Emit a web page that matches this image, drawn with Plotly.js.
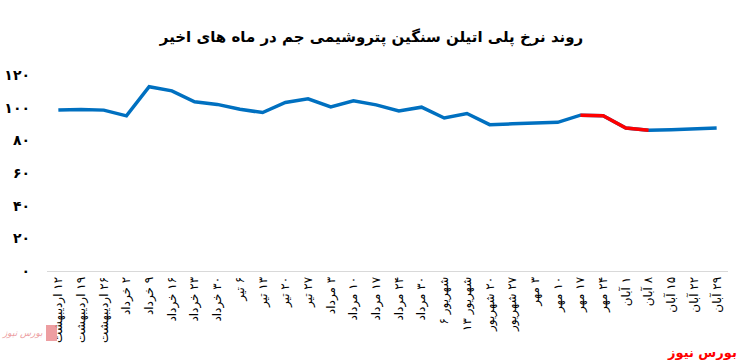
<!DOCTYPE html>
<html>
<head>
<meta charset="utf-8">
<script src="https://cdn.plot.ly/plotly-3.0.1.min.js"></script>
<style>html,body{margin:0;padding:0;background:#fff;}#chart{width:743px;height:364px;}</style>
</head>
<body>
<div id="chart"></div>
<script>
// Week labels (Persian calendar)
const categories = [
  "۱۲ اردیبهشت","۱۹ اردیبهشت","۲۶ اردیبهشت","۲ خرداد","۹ خرداد","۱۶ خرداد",
  "۲۳ خرداد","۳۰ خرداد","۶ تیر","۱۳ تیر","۲۰ تیر","۲۷ تیر",
  "۳ مرداد","۱۰ مرداد","۱۷ مرداد","۲۴ مرداد","۳۰ مرداد","شهریور ۶",
  "شهریور ۱۳","۲۰ شهریور","۲۷ شهریور","۳ مهر","۱۰ مهر","۱۷ مهر",
  "۲۴ مهر","۱ آبان","۸ آبان","۱۵ آبان","۲۲ آبان","۲۹ آبان"
];
// Price index values
const values = [
  98.5, 98.9, 98.5, 95.0, 112.8, 110.3,
  103.6, 102.0, 99.0, 97.0, 103.2, 105.4,
  100.5, 104.2, 101.7, 98.0, 100.3, 93.7,
  96.4, 89.6, 90.1, 90.5, 91.0, 95.4,
  95.0, 87.6, 86.2, 86.5, 86.8, 87.6
];
// Highlighted (red) stretch: from "۱۷ مهر" to "۸ آبان"
const highlightFrom = "۱۷ مهر";
const highlightTo = "۸ آبان";
// Y ticks
const yTickVals = [0, 20, 40, 60, 80, 100, 120];
const yTickText = ["۰","۲۰","۴۰","۶۰","۸۰","۱۰۰","۱۲۰"];

const RLM = "\u200F";
const xIdx = categories.map((_, i) => i);
const i0 = categories.indexOf(highlightFrom), i1 = categories.indexOf(highlightTo);
const redVals = values.map((v, i) => (i >= i0 && i <= i1) ? v : null);

const traces = [
  {x: xIdx, y: values, type: "scatter", mode: "lines",
   line: {color: "#0070C0", width: 3.5}, hoverinfo: "skip"},
  {x: xIdx, y: redVals, type: "scatter", mode: "lines",
   line: {color: "#FF0000", width: 3.5}, connectgaps: false, hoverinfo: "skip"}
];

const fontFam = "DejaVu Sans, Noto Sans, sans-serif";
// helpers to convert pixel positions into paper fractions
const L = 47, W = 681, T = 75, H = 196;
const px = v => (v - L) / W;
const py = v => (T + H - v) / H;

const layout = {
  width: 743, height: 364,
  margin: {l: 47, r: 15, t: 75, b: 93},
  paper_bgcolor: "#ffffff", plot_bgcolor: "#ffffff",
  showlegend: false,
  title: {text: "روند نرخ پلی اتیلن سنگین پتروشیمی جم در ماه های اخیر",
          x: 0.5, xanchor: "center", y: 0.9, yanchor: "middle",
          font: {family: fontFam, size: 15, color: "#000", weight: "bold"}},
  xaxis: {
    range: [-0.5, categories.length - 0.5],
    tickmode: "array", tickvals: xIdx, ticktext: categories.map(s => RLM + s),
    tickangle: -90, ticks: "", showgrid: false, zeroline: false,
    showline: true, linecolor: "#d9d9d9", linewidth: 1,
    tickfont: {family: fontFam, size: 12, color: "#000"},
    fixedrange: true
  },
  yaxis: {
    range: [0, 120], tickmode: "array", tickvals: yTickVals, ticktext: yTickText,
    showgrid: false, zeroline: false, showline: false, ticks: "",
    ticklabelstandoff: 16,
    tickfont: {family: fontFam, size: 14, color: "#000", weight: "bold"},
    fixedrange: true
  },
  shapes: [
    {type: "rect", xref: "paper", yref: "paper", x0: px(46), x1: px(57),
     y0: py(341), y1: py(325), fillcolor: "#e8868a", line: {width: 0}, opacity: 0.8}
  ],
  annotations: [
    {text: "بورس نیوز", xref: "paper", yref: "paper", x: px(739), xanchor: "right",
     y: py(352), yanchor: "middle", showarrow: false,
     font: {family: fontFam, size: 13, color: "#FF0000", weight: "bold"}},
    {text: "بورس نیوز", xref: "paper", yref: "paper", x: px(45), xanchor: "right",
     y: py(333), yanchor: "middle", showarrow: false,
     font: {family: fontFam, size: 9, color: "#e8868a", style: "italic"}, opacity: 0.8}
  ]
};

Plotly.newPlot("chart", traces, layout, {displayModeBar: false, staticPlot: true});
</script>
</body>
</html>
